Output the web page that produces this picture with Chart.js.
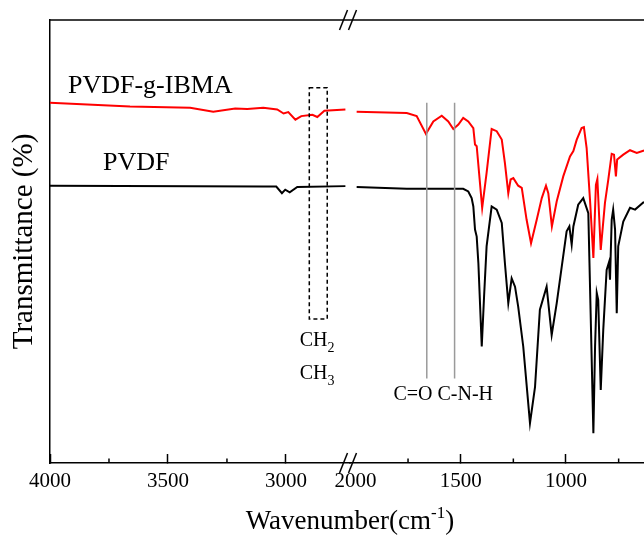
<!DOCTYPE html>
<html lang="en">
<head>
    <meta charset="UTF-8">
    <title>FTIR PVDF / PVDF-g-IBMA</title>
    <script src="https://cdn.jsdelivr.net/npm/chart.js"></script>
    <style>
        html, body { margin: 0; padding: 0; background: #fff; overflow: hidden; }
        #wrap { width: 720px; height: 536px; }
    </style>
</head>
<body>
    <div id="wrap"><canvas id="ftir" width="720" height="536"></canvas></div>
    <script>
        // spectra: wavenumber (cm-1) and transmittance (arbitrary 0-100)
        // left part of the broken axis (4000 - 2750)
        const graftLeftWn = [4000, 3661, 3406, 3308, 3215, 3164, 3096, 3037, 3010, 2990, 2960, 2935, 2888, 2867, 2837, 2748];
        const graftLeftT  = [81.3, 80.5, 80.2, 79.3, 80.0, 79.9, 80.2, 79.8, 78.9, 79.2, 77.5, 78.3, 78.6, 78.1, 79.5, 79.8];
        const pvdfLeftWn  = [4000, 3096, 3041, 3017, 3003, 2984, 2952, 2748];
        const pvdfLeftT   = [62.6, 62.4, 62.4, 60.9, 61.7, 61.1, 62.3, 62.5];

        // right part of the broken axis (2000 - 600)
        const graftRightWn = [1994, 1756, 1709, 1665, 1630, 1590, 1559, 1535, 1511, 1488, 1464, 1440, 1432, 1424, 1398, 1377,
                              1353, 1329, 1305, 1290, 1274, 1263, 1250, 1227, 1210, 1187, 1166, 1139, 1115, 1095, 1084, 1067,
                              1044, 1013, 981, 965, 949, 926, 915, 902, 886, 870, 858, 851, 835, 815, 799, 783,
                              772, 763, 757, 728, 696, 664, 633, 600];
        const graftRightT  = [79.3, 79.0, 78.3, 74.3, 77.1, 78.4, 77.1, 75.4, 76.4, 77.9, 77.1, 75.6, 71.9, 71.5, 57.6, 65.5,
                              75.4, 74.9, 73.0, 67.7, 60.9, 64.0, 64.3, 62.6, 62.1, 54.9, 49.6, 54.9, 59.8, 62.6, 60.9, 53.4,
                              59.1, 64.7, 69.2, 70.4, 73.0, 75.6, 75.8, 71.1, 59.4, 46.3, 62.8, 64.1, 48.1, 58.7, 64.0, 69.8,
                              69.6, 64.7, 68.5, 69.6, 70.6, 70.0, 70.5, 70.8];
        const pvdfRightWn  = [1994, 1756, 1657, 1488, 1464, 1448, 1440, 1432, 1424, 1416, 1400, 1389, 1377, 1353, 1329, 1305,
                              1290, 1274, 1258, 1242, 1227, 1203, 1171, 1147, 1124, 1092, 1068, 1044, 1020, 997, 984, 973,
                              965, 942, 918, 894, 883, 870, 862, 854, 847, 835, 823, 807, 796, 791,
                              783, 776, 767, 759, 752, 728, 696, 672, 633, 600];
        const pvdfRightT   = [62.3, 61.9, 61.9, 61.9, 61.3, 59.8, 57.9, 52.7, 51.1, 45.1, 26.3, 37.6, 48.9, 57.9, 57.2, 54.2,
                              45.1, 36.1, 41.7, 39.8, 35.3, 26.3, 9.0, 17.2, 34.6, 39.8, 28.9, 36.1, 44.4, 52.3, 53.4, 49.3,
                              53.4, 58.3, 59.8, 56.4, 33.8, 6.7, 26.3, 38.4, 36.8, 16.5, 30.1, 43.6, 45.3, 41.4,
                              54.9, 57.2, 52.7, 33.8, 48.9, 54.5, 57.6, 57.2, 58.8, 59.0];

        // axis ticks (major ones carry a label, minor ones are short marks)
        const leftMajor  = [4000, 3500, 3000];
        const leftMinor  = [3750, 3250];
        const rightMajor = [1500, 1000, 500];
        const rightMinor = [1750, 1250, 750];
        const rightLabelOnly = [2000];   // label sits under the break marks, no tick

        // annotation anchors (wavenumber, transmittance)
        const graftLabel = { wn: 3924, t: 83.5, text: 'PVDF-g-IBMA' };
        const pvdfLabel  = { wn: 3775, t: 66.2, text: 'PVDF' };
        const chBox = { wn1: 2901, wn2: 2825, t1: 84.7, t2: 32.5 };
        const chLabels = { wn: 2942, t2: 26.3, t3: 18.9 };
        const bandLines = [1661, 1529];
        const bandTop = 81.3, bandBottom = 19.1;
        const bandText = { wn: 1583, t: 14.2, text: 'C=O C-N-H' };

        const serif = "'Liberation Serif', 'Times New Roman', serif";

        function pts(xs, ys) {
            return xs.map((x, i) => ({ x: x, y: ys[i] }));
        }

        function drawLine(ctx, x1, y1, x2, y2) {
            ctx.beginPath();
            ctx.moveTo(x1, y1);
            ctx.lineTo(x2, y2);
            ctx.stroke();
        }

        const decorations = {
            id: 'decorations',
            afterDraw(chart) {
                const { ctx, chartArea: area, scales } = chart;
                const xL = scales.xL, xR = scales.xR, y = scales.y;
                ctx.save();
                ctx.strokeStyle = '#000';
                ctx.lineWidth = 1.5;

                // top frame line
                drawLine(ctx, area.left, area.top, area.right, area.top);

                // short minor ticks
                [[xL, leftMinor], [xR, rightMinor]].forEach(([sc, vals]) => {
                    vals.forEach(v => {
                        const px = sc.getPixelForValue(v);
                        drawLine(ctx, px, area.bottom, px, area.bottom - 4.5);
                    });
                });

                // axis break marks
                const bx = xL.right - 2;
                [area.top, area.bottom].forEach(by => {
                    [-4.5, 4.5].forEach(dx => {
                        drawLine(ctx, bx + dx - 4, by + 10, bx + dx + 4, by - 10);
                    });
                });

                // dashed box around CH2/CH3 region
                ctx.setLineDash([4, 3]);
                const bx1 = xL.getPixelForValue(chBox.wn1), bx2 = xL.getPixelForValue(chBox.wn2);
                const by1 = y.getPixelForValue(chBox.t1), by2 = y.getPixelForValue(chBox.t2);
                ctx.strokeRect(bx1, by1, bx2 - bx1, by2 - by1);
                ctx.setLineDash([]);

                // grey band markers
                ctx.strokeStyle = '#9a9a9a';
                bandLines.forEach(wn => {
                    const px = xR.getPixelForValue(wn);
                    drawLine(ctx, px, y.getPixelForValue(bandTop), px, y.getPixelForValue(bandBottom));
                });

                // text
                ctx.fillStyle = '#000';
                ctx.textBaseline = 'alphabetic';
                ctx.textAlign = 'left';
                ctx.font = '26px ' + serif;
                ctx.fillText(graftLabel.text, xL.getPixelForValue(graftLabel.wn), y.getPixelForValue(graftLabel.t));
                ctx.fillText(pvdfLabel.text, xL.getPixelForValue(pvdfLabel.wn), y.getPixelForValue(pvdfLabel.t));

                const chx = xL.getPixelForValue(chLabels.wn);
                [[chLabels.t2, '2'], [chLabels.t3, '3']].forEach(([t, sub]) => {
                    const py = y.getPixelForValue(t);
                    ctx.font = '20px ' + serif;
                    ctx.fillText('CH', chx, py);
                    const w = ctx.measureText('CH').width;
                    ctx.font = '14px ' + serif;
                    ctx.fillText(sub, chx + w, py + 6);
                });

                ctx.font = '20px ' + serif;
                ctx.textAlign = 'center';
                ctx.fillText(bandText.text, xR.getPixelForValue(bandText.wn), y.getPixelForValue(bandText.t));

                // x axis title with superscript, centred on the break
                ctx.textAlign = 'left';
                ctx.font = '27px ' + serif;
                const main = 'Wavenumber(cm', close = ')';
                const wMain = ctx.measureText(main).width;
                const wClose = ctx.measureText(close).width;
                ctx.font = '17px ' + serif;
                const wSup = ctx.measureText('-1').width;
                const total = wMain + wSup + wClose;
                const tx = xL.right - total / 2;
                const ty = area.bottom + 66;
                ctx.font = '27px ' + serif;
                ctx.fillText(main, tx, ty);
                ctx.font = '17px ' + serif;
                ctx.fillText('-1', tx + wMain, ty - 11);
                ctx.font = '27px ' + serif;
                ctx.fillText(close, tx + wMain + wSup, ty);

                ctx.restore();
            }
        };

        const tickFont = { family: serif, size: 21 };

        function xAxis(min, max, weight, major, labelOnly) {
            return {
                type: 'linear',
                position: 'bottom',
                stack: 'wavenumber',
                stackWeight: weight,
                reverse: true,
                min: min,
                max: max,
                afterFit: s => { s.height = 73; },
                afterBuildTicks: s => {
                    s.ticks = major.concat(labelOnly).map(v => ({ value: v }));
                },
                border: { display: true, color: '#000', width: 1.5 },
                grid: {
                    drawOnChartArea: false,
                    drawTicks: true,
                    tickLength: -9,
                    tickWidth: 1.5,
                    tickColor: c => labelOnly.includes(c.tick.value) ? 'rgba(0,0,0,0)' : '#000'
                },
                ticks: {
                    autoSkip: false,
                    maxRotation: 0,
                    padding: 15,
                    color: '#000',
                    font: tickFont,
                    callback: v => String(v)
                }
            };
        }

        new Chart(document.getElementById('ftir'), {
            type: 'line',
            data: {
                datasets: [
                    { data: pts(graftLeftWn, graftLeftT), xAxisID: 'xL', borderColor: '#ff0000' },
                    { data: pts(graftRightWn, graftRightT), xAxisID: 'xR', borderColor: '#ff0000' },
                    { data: pts(pvdfLeftWn, pvdfLeftT), xAxisID: 'xL', borderColor: '#000000' },
                    { data: pts(pvdfRightWn, pvdfRightT), xAxisID: 'xR', borderColor: '#000000' }
                ]
            },
            options: {
                responsive: false,
                animation: false,
                devicePixelRatio: 1,
                layout: { padding: { left: 0, top: 20, right: 20, bottom: 0 } },
                elements: {
                    line: { borderWidth: 2, tension: 0 },
                    point: { radius: 0 }
                },
                plugins: { legend: { display: false }, tooltip: { enabled: false } },
                scales: {
                    xL: xAxis(2728.5, 4000, 300, leftMajor, []),
                    xR: xAxis(363.7, 2025.6, 350, rightMajor, rightLabelOnly),
                    y: {
                        min: 0,
                        max: 100,
                        afterFit: s => { s.width = 50; },
                        border: { display: true, color: '#000', width: 1.5 },
                        grid: { drawOnChartArea: false, drawTicks: false },
                        ticks: { display: false },
                        title: {
                            display: true,
                            text: 'Transmittance (%)',
                            color: '#000',
                            font: { family: serif, size: 29 },
                            padding: { top: 7, bottom: 0 }
                        }
                    }
                }
            },
            plugins: [decorations]
        });
    </script>
</body>
</html>
